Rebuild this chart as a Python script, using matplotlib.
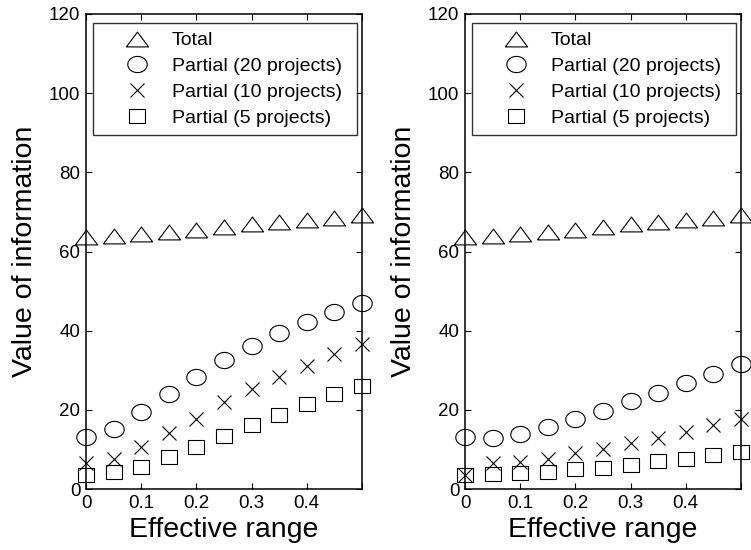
import matplotlib.pyplot as plt
import numpy as np

plt.rcParams['font.family'] = ['Liberation Sans', 'DejaVu Sans']

x = [0, 0.05, 0.1, 0.15, 0.2, 0.25, 0.3, 0.35, 0.4, 0.45, 0.5]

# left panel
total_a = [63.6, 64.0, 64.5, 65.0, 65.5, 66.2, 66.9, 67.5, 68.0, 68.5, 69.2]
p20_a = [13.2, 15.2, 19.5, 24.0, 28.4, 32.7, 36.1, 39.3, 42.3, 44.8, 46.9]
p10_a = [6.6, 7.7, 10.5, 14.1, 17.8, 21.9, 25.3, 28.4, 31.1, 34.0, 36.6]
p5_a = [3.5, 4.4, 5.6, 8.0, 10.7, 13.5, 16.2, 18.7, 21.5, 23.9, 26.1]

# right panel
total_b = [63.6, 64.0, 64.5, 65.0, 65.5, 66.2, 66.9, 67.5, 68.0, 68.5, 69.2]
p20_b = [13.2, 13.0, 13.9, 15.7, 17.7, 19.8, 22.2, 24.3, 26.7, 29.0, 31.5]
p10_b = [3.5, 6.6, 6.9, 7.7, 9.0, 10.1, 11.7, 13.0, 14.5, 16.2, 17.7]
p5_b = [3.5, 3.7, 4.0, 4.4, 5.0, 5.4, 6.1, 7.1, 7.7, 8.6, 9.4]

labels = ['Total', 'Partial (20 projects)', 'Partial (10 projects)', 'Partial (5 projects)']

# markers look a bit wider than tall in the original
t = np.linspace(0, 2 * np.pi, 41)
tri = [(-1.5, -1), (1.5, -1), (0, 1), (-1.5, -1)]
ell = list(zip(1.2 * np.cos(t), np.sin(t)))
sq = [(-1.15, -1), (1.15, -1), (1.15, 1), (-1.15, 1), (-1.15, -1)]
markers = [tri, ell, 'x', sq]
sizes = [16, 14, 9.5, 11.5]

fig = plt.figure(figsize=(7.51, 5.5), dpi=100)
ax1 = fig.add_axes([86/751, 1 - 489/550, 276/751, 475/550])
ax2 = fig.add_axes([465/751, 1 - 489/550, 276/751, 475/550])

for ax, series in [(ax1, [total_a, p20_a, p10_a, p5_a]), (ax2, [total_b, p20_b, p10_b, p5_b])]:
    for s, m, ms, lab in zip(series, markers, sizes, labels):
        ax.plot(x, s, linestyle='none', marker=m, markersize=ms, markerfacecolor='none',
                markeredgecolor='black', markeredgewidth=0.8, color='black',
                label=lab, clip_on=False, zorder=3)
    ax.set_xlim(0, 0.5)
    ax.set_ylim(0, 120)
    ax.set_xticks([0, 0.1, 0.2, 0.3, 0.4, 0.5])
    ax.set_xticklabels(['0', '0.1', '0.2', '0.3', '0.4', ''])
    ax.set_yticks([0, 20, 40, 60, 80, 100, 120])
    ax.tick_params(direction='in', top=True, right=True, length=4, labelsize=13.5, pad=4)
    ax.set_xlabel('Effective range', fontsize=20.5, labelpad=4)
    ax.set_ylabel('Value of information', fontsize=20.5, labelpad=8)
    for sp in ax.spines.values():
        sp.set_linewidth(1.1)
    leg = ax.legend(loc='upper left', bbox_to_anchor=(7/276, 0, 264/276, 1 - 9/475), mode='expand',
                    frameon=True, fancybox=False, edgecolor='black', fontsize=14,
                    handlelength=3.6, handletextpad=0.0, labelspacing=0.42, borderpad=0.45,
                    borderaxespad=0)
    leg.get_frame().set_linewidth(1.0)

fig.savefig('out.png', dpi=100)
